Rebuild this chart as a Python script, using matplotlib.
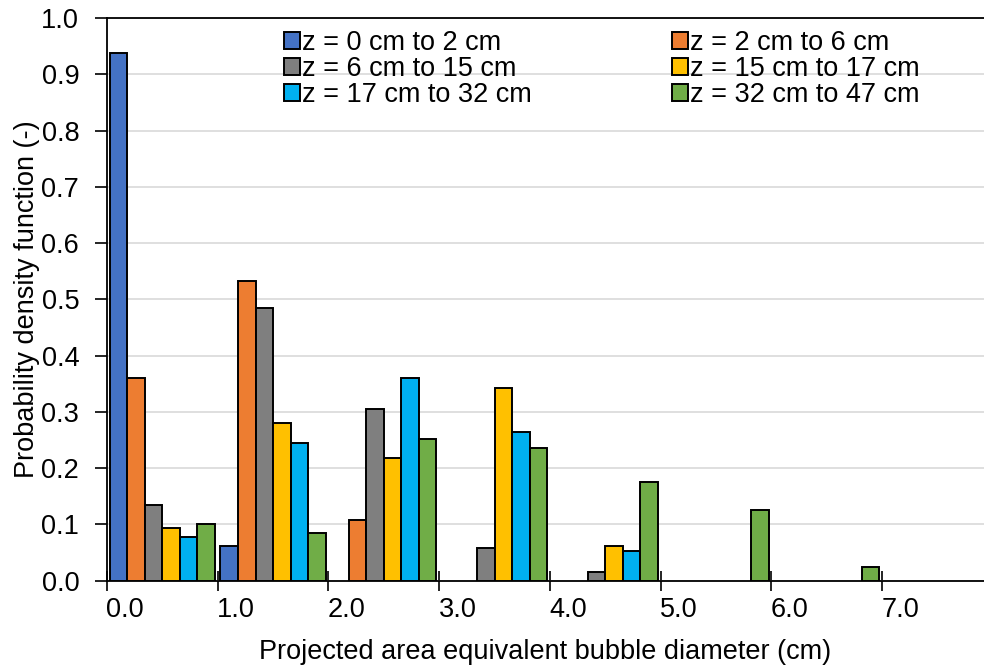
import numpy as np
import matplotlib
matplotlib.use("Agg")
import matplotlib.pyplot as plt

plt.rcParams['font.family'] = ['Liberation Sans', 'DejaVu Sans']

# diameter classes (cm), lower bound of each bin
bins = [0.0, 1.0, 2.0, 3.0, 4.0, 5.0, 6.0, 7.0]
bin_labels = ['0.0', '1.0', '2.0', '3.0', '4.0', '5.0', '6.0', '7.0']

# probability density per height range
series_names = ['z = 0 cm to 2 cm', 'z = 2 cm to 6 cm', 'z = 6 cm to 15 cm',
                'z = 15 cm to 17 cm', 'z = 17 cm to 32 cm', 'z = 32 cm to 47 cm']
pdf_0_2 = [0.937, 0.062, 0.0, 0.0, 0.0, 0.0, 0.0, 0.0]
pdf_2_6 = [0.360, 0.532, 0.107, 0.0, 0.0, 0.0, 0.0, 0.0]
pdf_6_15 = [0.134, 0.484, 0.306, 0.058, 0.016, 0.0, 0.0, 0.0]
pdf_15_17 = [0.093, 0.281, 0.218, 0.343, 0.062, 0.0, 0.0, 0.0]
pdf_17_32 = [0.077, 0.245, 0.361, 0.264, 0.052, 0.0, 0.0, 0.0]
pdf_32_47 = [0.100, 0.084, 0.252, 0.235, 0.176, 0.126, 0.025, 0.0]
colors = ['#4472C4', '#ED7D31', '#7F7F7F', '#FFC000', '#00B0F0', '#70AD47']

all_series = [pdf_0_2, pdf_2_6, pdf_6_15, pdf_15_17, pdf_17_32, pdf_32_47]

fs = 19.5

fig = plt.figure(figsize=(9.84, 6.68), dpi=100)
ax = fig.add_axes([0.1087, 0.1307, 0.8913, 0.8423])

x = np.array(bins)
gap = 0.05
w = (1 - gap) / len(all_series)
handles = []
for k, (vals, c, name) in enumerate(zip(all_series, colors, series_names)):
    vals = np.array(vals)
    pos = x + gap / 2 + (k + 0.5) * w
    keep = vals > 0
    h = ax.bar(pos[keep], vals[keep], width=w, color=c, edgecolor='black',
               linewidth=1.4, label=name, zorder=3)
    handles.append(h)

ax.set_xlim(0, 7.92)
ax.set_ylim(0, 1.0)
ax.set_yticks(np.arange(0, 1.01, 0.1))
ax.set_yticklabels([f'{v:.1f}' for v in np.arange(0, 1.01, 0.1)])
ax.grid(axis='y', color='#d9d9d9', linewidth=1.2, zorder=0)

# category boundaries get the tick marks, labels sit just right of them
ax.set_xticks(x)
ax.set_xticklabels([])
ax.set_xticks(x + 0.165, minor=True)
ax.set_xticklabels(bin_labels, minor=True)
ax.tick_params(axis='x', which='major', direction='inout', length=14, width=1.2)
ax.tick_params(axis='x', which='minor', length=0, pad=12, labelsize=fs)
ax.tick_params(axis='y', direction='out', length=9, width=1.2, pad=11, labelsize=fs)

for s in ['left', 'bottom', 'top']:
    ax.spines[s].set_linewidth(1.3)
ax.spines['right'].set_visible(False)

ax.set_xlabel('Projected area equivalent bubble diameter (cm)', fontsize=fs, labelpad=11)
ax.set_ylabel('Probability density function (-)', fontsize=fs, labelpad=1)

# row-wise ordering in a two-column legend
order = [0, 2, 4, 1, 3, 5]
ax.legend([handles[i] for i in order], [series_names[i] for i in order],
          ncol=2, loc='upper left', bbox_to_anchor=(0.188, 1.0), frameon=False,
          fontsize=fs, handlelength=0.58, handleheight=0.58, handletextpad=0.08,
          columnspacing=5.18, labelspacing=0.0, borderaxespad=0.05)

fig.savefig('out.png', dpi=100)
